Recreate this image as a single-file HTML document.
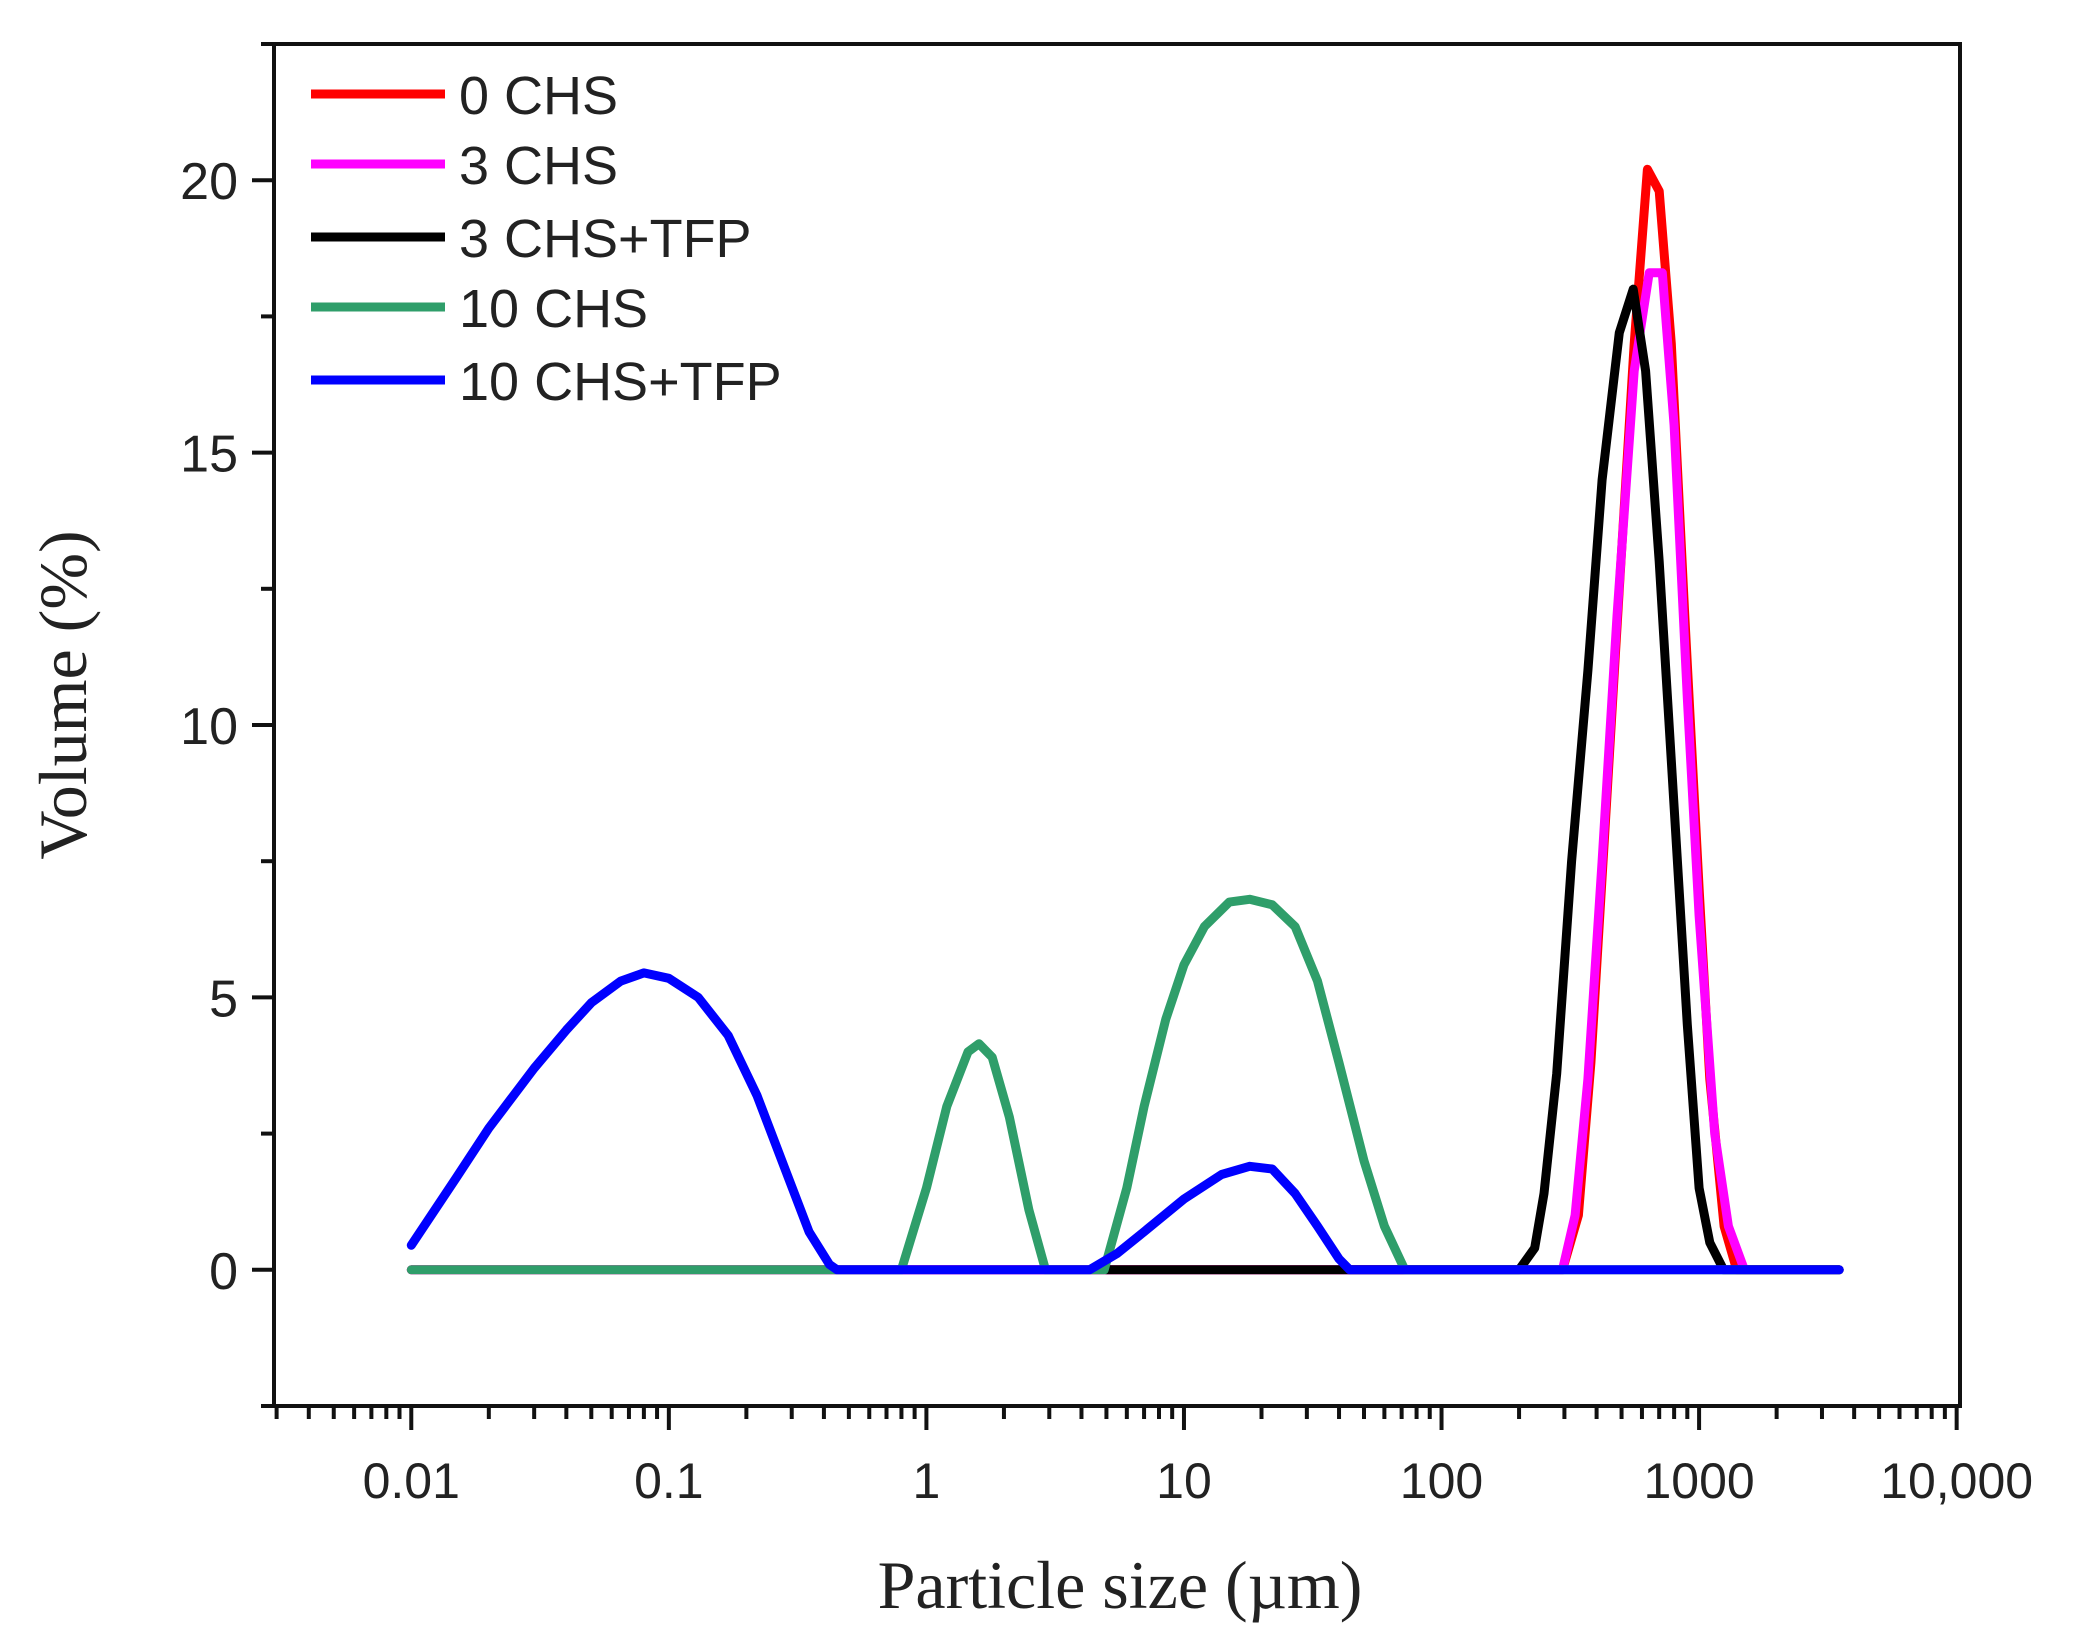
<!DOCTYPE html>
<html><head><meta charset="utf-8"><style>
body{margin:0;background:#fff;}
svg{display:block;}
</style></head><body>
<svg id="chart" width="2085" height="1633" viewBox="0 0 2085 1633" xmlns="http://www.w3.org/2000/svg"></svg>
<script>
const yTicks=[0,5,10,15,20];
const xTickVals=[0.01,0.1,1,10,100,1000,10000];
const xTickLabels=["0.01","0.1","1","10","100","1000","10,000"];
const seriesNames=["0 CHS","3 CHS","3 CHS+TFP","10 CHS","10 CHS+TFP"];
const seriesColors=["#ff0000","#ff00ff","#000000","#2f9e6a","#0000ff"];
const redX=[0.01,295,340,380,430,490,560,630,700,780,880,1000,1100,1250,1400,3500];
const redY=[0,0,1.0,3.8,8,12.5,17,20.2,19.8,17,12,7,3.5,0.8,0,0];
const magX=[0.01,295,330,370,420,480,560,640,720,800,900,1000,1150,1300,1500,3500];
const magY=[0,0,1.0,3.5,7.5,12,16.5,18.3,18.3,15.5,10.5,6.5,2.5,0.8,0,0];
const blkX=[5,200,230,250,280,320,370,420,490,555,620,700,800,900,1000,1100,1245,3500];
const blkY=[0,0,0.4,1.4,3.6,7.5,11,14.5,17.2,18,16.5,13,8.5,4.5,1.5,0.5,0,0];
const grnX=[0.01,0.8,1.0,1.2,1.45,1.6,1.8,2.1,2.5,2.9,4.9,6,7,8.5,10,12,15,18,22,27,33,40,50,60,72,3500];
const grnY=[0,0,1.5,3.0,4.0,4.15,3.9,2.8,1.1,0,0,1.5,3.0,4.6,5.6,6.3,6.75,6.8,6.7,6.3,5.3,3.8,2.0,0.8,0,0];
const bluX=[0.01,0.015,0.02,0.03,0.04,0.05,0.065,0.08,0.1,0.13,0.17,0.22,0.28,0.35,0.42,0.45,4.3,5.5,7,10,14,18,22,27,33,40,44,3500];
const bluY=[0.45,1.7,2.6,3.7,4.4,4.9,5.3,5.45,5.35,5.0,4.3,3.2,1.9,0.7,0.1,0,0,0.3,0.7,1.3,1.75,1.9,1.85,1.4,0.8,0.2,0,0];

const svg=document.getElementById('chart');
const NS="http://www.w3.org/2000/svg";
const L=274,R=1960,T=44,B=1406;
const yMin=-2.5,yMax=22.5,lgMin=-2.533,lgMax=4.013;
function sx(v){return L+(Math.log10(v)-lgMin)/(lgMax-lgMin)*(R-L);}
function sy(v){return B-(v-yMin)/(yMax-yMin)*(B-T);}
function mk(tag,attrs,parent){const e=document.createElementNS(NS,tag);for(const k in attrs)e.setAttribute(k,attrs[k]);(parent||svg).appendChild(e);return e;}

const frame=mk('rect',{x:L,y:T,width:R-L,height:B-T,fill:'none',stroke:'#111','stroke-width':4});



for(let v=-2.5;v<=22.5;v+=2.5){
  const major=Math.abs(v%5)<1e-9;
  const t=mk('line',{x1:L-(major?22:13),x2:L,y1:sy(v),y2:sy(v),stroke:'#111','stroke-width':4});
  
  
}
yTicks.forEach(v=>{
  const t=mk('text',{x:L-36,y:sy(v)+19,'text-anchor':'end','font-family':'Liberation Sans, Arial, sans-serif','font-size':52,fill:'#222'});
  t.textContent=v;
  
  
});
for(let d=-3;d<=3;d++){
  for(let m=1;m<=9;m++){
    const v=m*Math.pow(10,d);const lg=Math.log10(v);
    if(lg<lgMin||lg>lgMax+0.001)continue;
    const t=mk('line',{x1:sx(v),x2:sx(v),y1:B,y2:B+(m===1?24:13),stroke:'#111','stroke-width':4});
    
    
  }
}
{const t=mk('line',{x1:sx(10000),x2:sx(10000),y1:B,y2:B+24,stroke:'#111','stroke-width':4});

}
xTickVals.forEach((v,i)=>{
  const t=mk('text',{x:sx(v),y:B+92,'text-anchor':'middle','font-family':'Liberation Sans, Arial, sans-serif','font-size':50,fill:'#222'});
  t.textContent=xTickLabels[i];
  
  
});
const xt=mk('text',{x:1120,y:1608,'text-anchor':'middle','font-family':'Liberation Serif, Times New Roman, serif','font-size':68,fill:'#222'});
xt.textContent='Particle size (µm)';


const yt=mk('text',{x:0,y:0,'text-anchor':'middle','font-family':'Liberation Serif, Times New Roman, serif','font-size':68,fill:'#222',transform:'translate(86,695) rotate(-90)'});
yt.textContent='Volume (%)';



const allX=[redX,magX,blkX,grnX,bluX],allY=[redY,magY,blkY,grnY,bluY];
const snames=['series-0-chs','series-3-chs','series-3-chs-tfp','series-10-chs','series-10-chs-tfp'];
for(let s=0;s<5;s++){
  const pts=allX[s].map((x,i)=>sx(x).toFixed(1)+','+sy(allY[s][i]).toFixed(1)).join(' ');
  const p=mk('polyline',{points:pts,fill:'none',stroke:seriesColors[s],'stroke-width':9,'stroke-linejoin':'round','stroke-linecap':'round'});
  
  
}
const legYs=[94,164,237,307,380];
seriesNames.forEach((n,i)=>{
  const g=mk('g',{});
  
  
  mk('line',{x1:311,x2:445,y1:legYs[i],y2:legYs[i],stroke:seriesColors[i],'stroke-width':9},g);
  const t=mk('text',{x:459,y:legYs[i]+20,'font-family':'Liberation Sans, Arial, sans-serif','font-size':54,fill:'#222'},g);
  t.textContent=n;
});
</script>
</body></html>
